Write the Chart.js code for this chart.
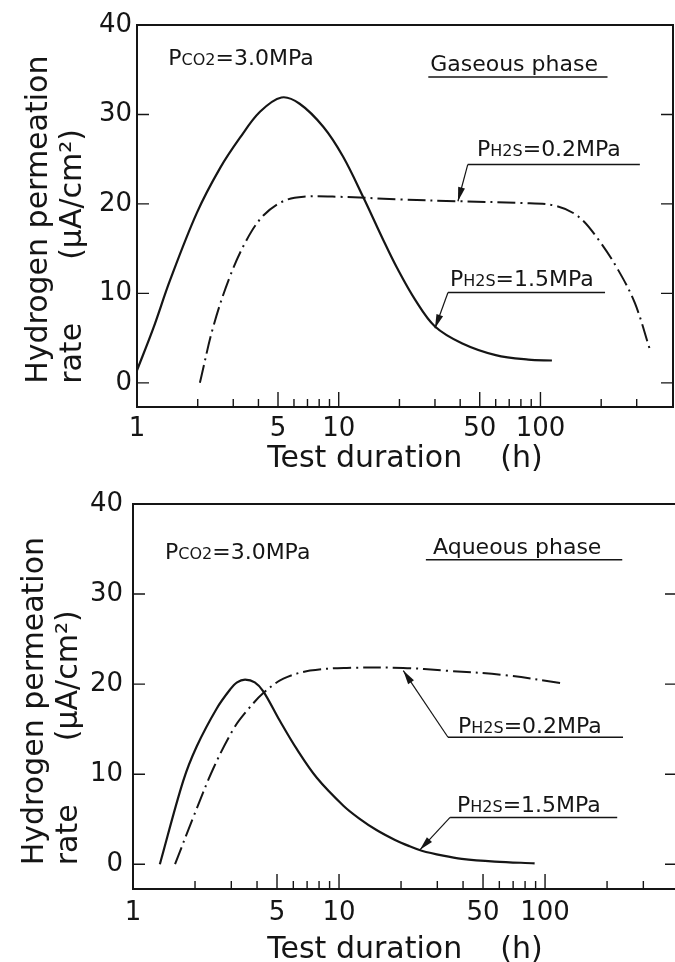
<!DOCTYPE html>
<html>
<head>
<meta charset="utf-8">
<script src="https://cdn.jsdelivr.net/npm/chart.js@4.4.1/dist/chart.umd.min.js"></script>
<style>
  body { margin: 0; background: #fff; overflow: hidden; }
  #wrap { position: relative; width: 675px; height: 962px; overflow: hidden; }
  canvas { position: absolute; left: 0; }
</style>
</head>
<body>
<div id="wrap">
  <canvas id="gasChart" width="675" height="481" style="top:0"></canvas>
  <canvas id="aqChart" width="680" height="481" style="top:481px"></canvas>
</div>
<script>
const ink = '#151515'
const family = 'DejaVu Sans'

// axis ticks
const yTickValues = [0, 10, 20, 30, 40]
const xLabelValues = [1, 5, 10, 50, 100]
const xMinorTicks = [2, 3, 4, 5, 6, 7, 8, 9, 10, 20, 30, 40, 50, 60, 70, 80, 90, 100, 200, 300]
const xLongTicks = [5, 10, 50, 100]

// gaseous phase, PH2S = 1.5 MPa (solid)
const gasHighX = [1.0, 1.2, 1.46, 1.98, 2.58, 3.24, 4.07, 5.2, 6.4, 8.4, 10.5, 13.2, 16.6, 19.5, 23.9, 30, 41, 60, 87, 114]
const gasHighY = [1.4, 6.0, 11.5, 19.0, 24.0, 27.4, 30.3, 31.9, 31.2, 28.6, 25.3, 20.8, 16.0, 12.8, 9.3, 6.3, 4.4, 3.1, 2.6, 2.5]
// gaseous phase, PH2S = 0.2 MPa (dash-dot)
const gasLowX = [2.05, 2.39, 2.89, 3.5, 4.23, 5.3, 6.7, 10, 20, 39, 80, 118, 154, 194, 243, 294, 349]
const gasLowY = [0, 6.3, 11.9, 16.0, 18.7, 20.3, 20.8, 20.8, 20.5, 20.3, 20.1, 19.8, 18.6, 16.0, 12.6, 8.9, 3.7]

// aqueous phase, PH2S = 1.5 MPa (solid)
const aqHighX = [1.35, 1.75, 2.04, 2.55, 2.96, 3.2, 3.5, 3.9, 4.29, 5.17, 6.23, 7.8, 10.5, 12.5, 15.2, 18.7, 22, 25.2, 32, 39.4, 57, 89]
const aqHighY = [0, 9.2, 13.1, 17.3, 19.4, 20.2, 20.5, 20.2, 19.2, 15.9, 12.8, 9.6, 6.5, 5.1, 3.8, 2.7, 2.0, 1.5, 0.95, 0.6, 0.3, 0.1]
// aqueous phase, PH2S = 0.2 MPa (dash-dot)
const aqLowX = [1.6, 1.96, 2.45, 3.07, 3.56, 4.29, 5.37, 7.23, 10.9, 20.5, 32.7, 64, 120]
const aqLowY = [0, 5.2, 10.6, 15.0, 17.0, 19.0, 20.6, 21.5, 21.8, 21.8, 21.5, 21.0, 20.1]

const pco2 = [['P', 22], ['CO2', 16], ['=3.0MPa', 22]]
const ph2s02 = [['P', 22], ['H2S', 16], ['=0.2MPa', 22]]
const ph2s15 = [['P', 22], ['H2S', 16], ['=1.5MPa', 22]]

const toPoints = (xs, ys) => xs.map((x, i) => ({ x, y: ys[i] }))

const drawRich = (ctx, parts, x, y) => {
  ctx.textAlign = 'left'
  ctx.textBaseline = 'alphabetic'
  parts.forEach(([t, size]) => {
    ctx.font = `${size}px "${family}"`
    ctx.fillText(t, x, y + 8)
    x += ctx.measureText(t).width
  })
}

const overlay = p => ({
  id: 'overlay',
  afterDraw (chart) {
    const { ctx, chartArea: a, scales: { x, y } } = chart
    ctx.save()
    ctx.strokeStyle = ink
    ctx.fillStyle = ink
    ctx.lineWidth = 2
    ctx.strokeRect(a.left, a.top, a.right - a.left, a.bottom - a.top)

    // ticks point inwards
    ctx.lineWidth = 1.4
    ctx.beginPath()
    xMinorTicks.forEach(v => {
      const px = x.getPixelForValue(v)
      ctx.moveTo(px, a.bottom)
      ctx.lineTo(px, a.bottom - (xLongTicks.includes(v) ? 15 : 8))
    })
    yTickValues.forEach(v => {
      const py = y.getPixelForValue(v)
      ctx.moveTo(a.left, py)
      ctx.lineTo(a.left + 12, py)
      ctx.moveTo(a.right, py)
      ctx.lineTo(a.right - 12, py)
    })
    ctx.stroke()

    // y title, two rotated lines
    const y0 = y.getPixelForValue(0) + 1
    ctx.font = `30px "${family}"`
    ctx.textAlign = 'left'
    ctx.textBaseline = 'alphabetic'
    const rotated = (text, bx, by) => {
      ctx.save()
      ctx.translate(bx, by)
      ctx.rotate(-Math.PI / 2)
      ctx.fillText(text, 0, 0)
      ctx.restore()
    }
    rotated('Hydrogen permeation', a.left - 90, y0)
    rotated('rate', a.left - 56, y0)
    rotated('(μA/cm²)', a.left - 56, y0 - 124)

    // notes
    p.notes.forEach(n => {
      drawRich(ctx, n.text, x.getPixelForValue(n.x), y.getPixelForValue(n.y))
      if (!n.line) return
      const lx = x.getPixelForValue(n.line[0])
      const ly = y.getPixelForValue(n.lineY)
      ctx.lineWidth = 1.5
      ctx.beginPath()
      ctx.moveTo(lx, ly)
      ctx.lineTo(x.getPixelForValue(n.line[1]), ly)
      ctx.stroke()
      if (!n.tip) return
      const tx = x.getPixelForValue(n.tip[0])
      const ty = y.getPixelForValue(n.tip[1])
      ctx.lineWidth = 1.2
      ctx.beginPath()
      ctx.moveTo(lx, ly)
      ctx.lineTo(tx, ty)
      ctx.stroke()
      const ang = Math.atan2(ty - ly, tx - lx)
      const len = 14
      const w = 3.5
      const bx = tx - Math.cos(ang) * len
      const by = ty - Math.sin(ang) * len
      ctx.beginPath()
      ctx.moveTo(tx, ty)
      ctx.lineTo(bx - Math.sin(ang) * w, by + Math.cos(ang) * w)
      ctx.lineTo(bx + Math.sin(ang) * w, by - Math.cos(ang) * w)
      ctx.closePath()
      ctx.fill()
    })
    ctx.restore()
  }
})

const makePanel = (canvasId, p) => {
  const config = {
    type: 'line',
    data: {
      datasets: [
        { data: toPoints(p.highX, p.highY), borderColor: ink, borderWidth: 2.2 },
        { data: toPoints(p.lowX, p.lowY), borderColor: ink, borderWidth: 2, borderDash: [18, 5, 2, 5] }
      ]
    },
    options: {
      responsive: false,
      animation: false,
      elements: {
        point: { radius: 0 },
        line: { tension: 0.35 }
      },
      layout: { padding: { top: p.top, right: p.right, left: 0, bottom: 0 } },
      plugins: {
        legend: { display: false },
        tooltip: { enabled: false }
      },
      scales: {
        x: {
          type: 'logarithmic',
          min: 1,
          max: p.xMax,
          afterBuildTicks: s => { s.ticks = xLabelValues.map(v => ({ value: v })) },
          afterFit: s => { s.height = p.xHeight },
          grid: { display: false, drawTicks: false },
          border: { display: false },
          ticks: {
            color: ink,
            font: { family, size: 26, lineHeight: 1 },
            padding: p.xPad,
            maxRotation: 0,
            autoSkip: false,
            callback: v => String(v)
          },
          title: {
            display: true,
            text: 'Test duration    (h)',
            color: ink,
            font: { family, size: 30, lineHeight: 1 },
            padding: { top: 0, bottom: p.titlePad }
          }
        },
        y: {
          min: p.yMin,
          max: 40,
          afterBuildTicks: s => { s.ticks = yTickValues.map(v => ({ value: v })) },
          afterFit: s => { s.width = p.yWidth },
          grid: { display: false, drawTicks: false },
          border: { display: false },
          ticks: {
            color: ink,
            font: { family, size: 26, lineHeight: 1 },
            padding: p.yPad
          }
        }
      }
    },
    plugins: [overlay(p)]
  }
  new Chart(document.getElementById(canvasId), config) // eslint-disable-line
}

makePanel('gasChart', {
  highX: gasHighX, highY: gasHighY, lowX: gasLowX, lowY: gasLowY,
  top: 25, right: 2, yWidth: 137, xHeight: 74, xMax: 454, yMin: -2.7,
  xPad: 9, yPad: 5, titlePad: 7,
  notes: [
    { x: 1.43, y: 36.4, text: pco2 },
    { x: 28.4, y: 35.8, text: [['Gaseous phase', 22]], lineY: 34.2, line: [27.8, 215] },
    { x: 48.5, y: 26.3, text: ph2s02, lineY: 24.4, line: [43.6, 311], tip: [39, 20.3] },
    { x: 35.6, y: 11.7, text: ph2s15, lineY: 10.1, line: [34.8, 209], tip: [30, 6.1] }
  ]
})

makePanel('aqChart', {
  highX: aqHighX, highY: aqHighY, lowX: aqLowX, lowY: aqLowY,
  top: 16, right: 3, yWidth: 133, xHeight: 73, xMax: 437, yMin: -2.75,
  xPad: 11, yPad: 10, titlePad: -3,
  notes: [
    { x: 1.43, y: 34.8, text: pco2 },
    { x: 28.6, y: 35.3, text: [['Aqueous phase', 22]], lineY: 33.8, line: [26.4, 237] },
    { x: 37.8, y: 15.5, text: ph2s02, lineY: 14.1, line: [33.8, 239], tip: [20.5, 21.5] },
    { x: 37.4, y: 6.65, text: ph2s15, lineY: 5.2, line: [34.6, 224], tip: [24.7, 1.6] }
  ]
})
</script>
</body>
</html>
